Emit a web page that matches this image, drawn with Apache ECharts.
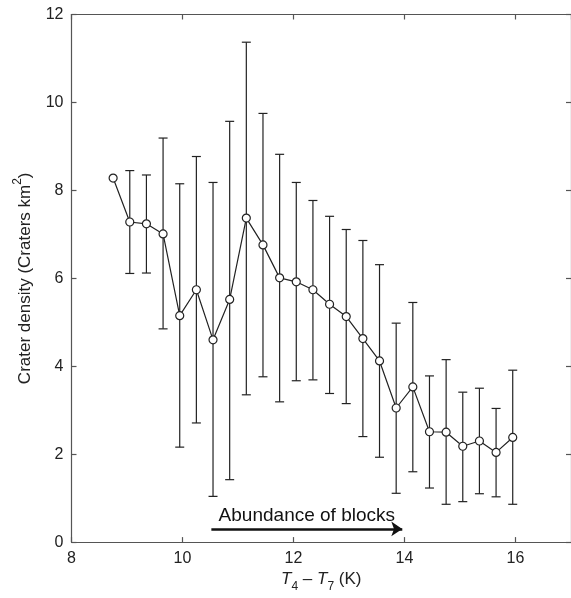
<!DOCTYPE html>
<html>
<head>
<meta charset="utf-8">
<script src="https://cdn.jsdelivr.net/npm/echarts@6/dist/echarts.min.js"></script>
<style>
html,body{margin:0;padding:0;background:#fff;}
#chart{width:571px;height:598px;}
</style>
</head>
<body>
<div id="chart"></div>
<script>
// Data
var xValues  = [8.75, 9.05, 9.35, 9.65, 9.95, 10.25, 10.55, 10.85, 11.15, 11.45, 11.75, 12.05, 12.35, 12.65, 12.95, 13.25, 13.55, 13.85, 14.15, 14.45, 14.75, 15.05, 15.35, 15.65, 15.95];
var density  = [8.28, 7.28, 7.24, 7.01, 5.15, 5.74, 4.60, 5.52, 7.37, 6.76, 6.01, 5.92, 5.74, 5.41, 5.13, 4.63, 4.12, 3.05, 3.53, 2.51, 2.50, 2.18, 2.30, 2.04, 2.38];
var errHigh  = [null, 8.45, 8.35, 9.19, 8.15, 8.77, 8.18, 9.57, 11.37, 9.75, 8.82, 8.18, 7.77, 7.41, 7.11, 6.86, 6.31, 4.98, 5.45, 3.78, 4.15, 3.41, 3.50, 3.04, 3.91];
var errLow   = [null, 6.11, 6.12, 4.85, 2.16, 2.71, 1.04, 1.42, 3.35, 3.76, 3.19, 3.67, 3.69, 3.38, 3.15, 2.40, 1.93, 1.11, 1.60, 1.23, 0.86, 0.92, 1.10, 1.03, 0.86];
var xTicks   = {min: 8, max: 17, interval: 2};
var yTicks   = {min: 0, max: 12, interval: 2};
var arrowStart = [10.52, 0.30];
var arrowEnd   = [13.96, 0.30];
var arrowText  = 'Abundance of blocks';

var lineData = xValues.map(function (x, i) { return [x, density[i]]; });
var errData = [];
xValues.forEach(function (x, i) {
  if (errLow[i] !== null && errHigh[i] !== null) errData.push([x, errLow[i], errHigh[i]]);
});

var FONT = 'Liberation Sans, Arial, Helvetica, sans-serif';
var AX = '#555';
var TXT = '#222';

var chart = echarts.init(document.getElementById('chart'), null, {renderer: 'canvas'});

function baseAxis(extra) {
  return Object.assign({
    type: 'value',
    axisLine: {show: true, onZero: false, lineStyle: {color: AX, width: 1.2}},
    axisTick: {show: true, inside: true, length: 5, lineStyle: {color: AX, width: 1.2}},
    splitLine: {show: false}
  }, extra);
}

var option = {
  animation: false,
  backgroundColor: '#fff',
  textStyle: {fontFamily: FONT},
  grid: {left: 71.5, right: -2, top: 14.5, bottom: 55.7, containLabel: false},
  xAxis: [
    baseAxis({
      position: 'bottom', min: xTicks.min, max: xTicks.max, interval: xTicks.interval,
      axisLabel: {show: true, color: TXT, fontSize: 16, fontFamily: FONT, margin: 8, showMaxLabel: false},
      name: '{i|T}{sub|4}{n| – }{i|T}{sub|7}{n| (K)}',
      nameLocation: 'middle', nameGap: 28,
      nameTextStyle: {
        color: TXT, fontFamily: FONT, fontSize: 17,
        rich: {
          i: {fontStyle: 'italic', fontSize: 17, fontFamily: FONT, color: TXT, lineHeight: 22, verticalAlign: 'top'},
          n: {fontSize: 17, fontFamily: FONT, color: TXT, lineHeight: 22, verticalAlign: 'top'},
          sub: {fontSize: 12, fontFamily: FONT, color: TXT, lineHeight: 12, verticalAlign: 'bottom'}
        }
      }
    }),
    baseAxis({
      position: 'top', min: xTicks.min, max: xTicks.max, interval: xTicks.interval,
      axisLabel: {show: false}
    })
  ],
  yAxis: [
    baseAxis({
      position: 'left', min: yTicks.min, max: yTicks.max, interval: yTicks.interval,
      axisLabel: {show: true, color: TXT, fontSize: 16, fontFamily: FONT, margin: 8},
      name: '{n|Crater density (Craters km}{sup|2}{n|)}',
      nameLocation: 'middle', nameGap: 38,
      nameTextStyle: {
        color: TXT, fontFamily: FONT, fontSize: 17,
        rich: {
          n: {fontSize: 17, fontFamily: FONT, color: TXT, lineHeight: 22, verticalAlign: 'bottom'},
          sup: {fontSize: 12, fontFamily: FONT, color: TXT, lineHeight: 12, verticalAlign: 'top'}
        }
      }
    }),
    baseAxis({
      position: 'right', min: yTicks.min, max: yTicks.max, interval: yTicks.interval,
      axisLabel: {show: false}
    })
  ],
  series: [
    {
      type: 'custom',
      name: 'error',
      xAxisIndex: 0, yAxisIndex: 0,
      data: errData,
      z: 2,
      silent: true,
      renderItem: function (params, api) {
        var x = api.value(0);
        var lo = api.coord([x, api.value(1)]);
        var hi = api.coord([x, api.value(2)]);
        var half = 4.5;
        var style = {stroke: '#222', lineWidth: 1.2, fill: null};
        return {
          type: 'group',
          children: [
            {type: 'line', shape: {x1: lo[0], y1: lo[1], x2: hi[0], y2: hi[1]}, style: style},
            {type: 'line', shape: {x1: lo[0] - half, y1: lo[1], x2: lo[0] + half, y2: lo[1]}, style: style},
            {type: 'line', shape: {x1: hi[0] - half, y1: hi[1], x2: hi[0] + half, y2: hi[1]}, style: style}
          ]
        };
      }
    },
    {
      type: 'line',
      name: 'density',
      xAxisIndex: 0, yAxisIndex: 0,
      data: lineData,
      z: 5,
      symbol: 'circle',
      symbolSize: 8,
      lineStyle: {color: '#222', width: 1.2},
      itemStyle: {color: '#fff', borderColor: '#222', borderWidth: 1.2},
      markLine: {
        silent: true,
        symbol: ['none', 'arrow'],
        symbolSize: 11,
        symbolOffset: 0,
        lineStyle: {color: '#111', width: 2.6, type: 'solid'},
        itemStyle: {color: '#111'},
        label: {
          show: true,
          position: 'insideMiddleTop',
          formatter: arrowText,
          color: '#111',
          fontSize: 19,
          fontFamily: FONT,
          distance: 4
        },
        data: [[{coord: arrowStart, symbol: 'none'}, {coord: arrowEnd, symbol: 'arrow', symbolSize: 11}]]
      }
    }
  ]
};
chart.setOption(option);
</script>
</body>
</html>
